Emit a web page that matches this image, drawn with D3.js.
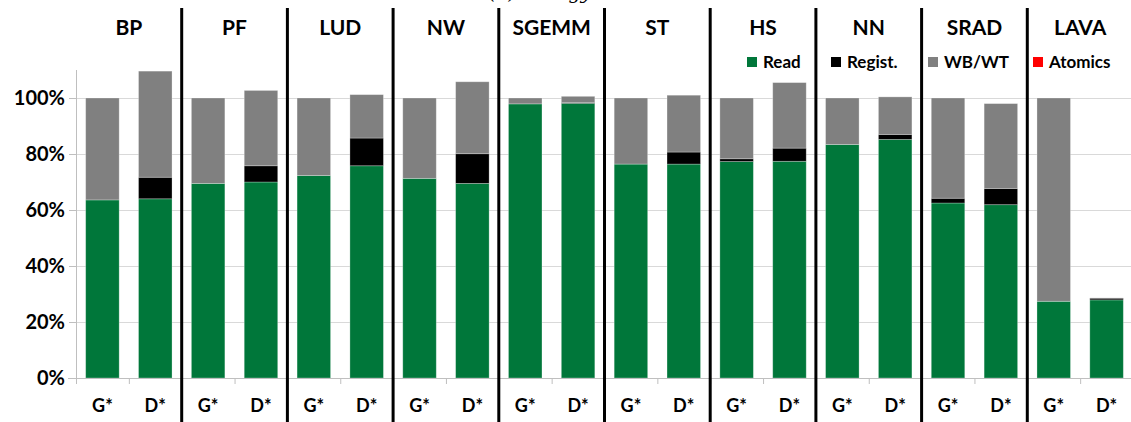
<!DOCTYPE html>
<html>
<head>
<meta charset="utf-8">
<script src="https://cdn.jsdelivr.net/npm/d3@7"></script>
<style>
  html, body { margin: 0; padding: 0; background: #fff; }
  svg { display: block; }
  text { font-family: Lato, "Open Sans", sans-serif; }
</style>
</head>
<body>
<svg id="chart" width="1131" height="422"></svg>
<script>
// Benchmarks and the two configurations compared in each
const groups = ["BP", "PF", "LUD", "NW", "SGEMM", "ST", "HS", "NN", "SRAD", "LAVA"];
const configs = ["G*", "D*"];

// Energy breakdown (%), one entry per bar: BP G*, BP D*, PF G*, PF D*, ...
const readVals    = [63.6, 64.0, 69.5, 70.0, 72.3, 75.8, 71.3, 69.5, 97.9, 98.1,
                     76.4, 76.4, 77.3, 77.4, 83.4, 85.2, 62.5, 61.9, 27.4, 27.9];
const registVals  = [0.0, 7.7, 0.0, 5.8, 0.0, 9.9, 0.0, 10.6, 0.0, 0.3,
                     0.0, 4.3, 1.0, 4.7, 0.0, 1.8, 1.7, 5.8, 0.0, 0.6];
const wbwtVals    = [36.4, 37.9, 30.5, 26.9, 27.7, 15.5, 28.7, 25.7, 2.1, 2.2,
                     23.6, 20.3, 21.7, 23.4, 16.6, 13.4, 35.8, 30.3, 72.6, 0.1];
const atomicsVals = [0, 0, 0, 0, 0, 0, 0, 0, 0, 0,
                     0, 0, 0, 0, 0, 0, 0, 0, 0, 0];

const seriesNames = ["Read", "Regist.", "WB/WT", "Atomics"];
const seriesColors = ["#00773a", "#000000", "#808080", "#ff0000"];
const yTicks = [0, 20, 40, 60, 80, 100];

const svg = d3.select("#chart");
const plotLeft = 76, plotRight = 1133, plotTop = 70, plotBottom = 378;

// Build rows for stacking
const rows = [];
groups.forEach((g, gi) => configs.forEach((c, ci) => {
  const i = gi * 2 + ci;
  rows.push({ key: g + "|" + c, group: g, config: c,
    "Read": readVals[i], "Regist.": registVals[i],
    "WB/WT": wbwtVals[i], "Atomics": atomicsVals[i] });
}));

const x = d3.scaleBand().domain(rows.map(r => r.key))
  .range([plotLeft, plotRight]).paddingInner(0.366).paddingOuter(0.183);
const xg = d3.scaleBand().domain(groups).range([plotLeft, plotRight]).padding(0);
const xSlot = d3.scaleLinear().domain([0, rows.length]).range([plotLeft, plotRight]);
const y = d3.scaleLinear().domain([0, 110]).range([plotBottom, plotTop]);

// Caption above the panel (runs off the top edge)
svg.append("text")
  .attr("x", 489).attr("y", -1)
  .style("font-family", "'DejaVu Serif', 'Liberation Serif', serif")
  .style("font-style", "italic").style("font-size", "19px")
  .text("(b) Energy");

// Gridlines
svg.append("g").selectAll("line").data(yTicks.filter(t => t > 0)).join("line")
  .attr("x1", plotLeft).attr("x2", plotRight)
  .attr("y1", d => Math.round(y(d)) + 0.5).attr("y2", d => Math.round(y(d)) + 0.5)
  .attr("stroke", "#d9d9d9").attr("stroke-width", 1);

// Y axis
const yAxis = svg.append("g").attr("transform", `translate(${plotLeft},0)`)
  .call(d3.axisLeft(y).tickValues(yTicks).tickSize(7).tickPadding(4)
    .tickFormat(d => d + "%"));
yAxis.select(".domain").attr("stroke", "#bfbfbf").attr("d", `M0.5,${plotTop}V${plotBottom}`);
yAxis.selectAll(".tick line").attr("stroke", "#bfbfbf");
yAxis.selectAll(".tick text").style("font-family", "Lato, sans-serif")
  .style("font-size", "20px").style("font-weight", "700").attr("fill", "#000");

// Stacked bars
const stack = d3.stack().keys(seriesNames);
const layers = stack(rows);
svg.append("g").selectAll("g").data(layers).join("g")
  .attr("fill", (d, i) => seriesColors[i])
  .selectAll("rect").data(d => d).join("rect")
  .attr("x", d => x(d.data.key))
  .attr("width", x.bandwidth())
  .attr("y", d => y(d[1]))
  .attr("height", d => Math.max(0, y(d[0]) - y(d[1])))
  .attr("stroke", "rgba(255,255,255,0.35)").attr("stroke-width", 0.8);

// X axis: slot boundary ticks
const xAxis = svg.append("g").attr("transform", `translate(0,${plotBottom})`)
  .call(d3.axisBottom(xSlot).tickValues(d3.range(0, rows.length + 1))
    .tickSize(6).tickFormat(""));
xAxis.select(".domain").attr("stroke", "#bfbfbf").attr("d", `M${plotLeft - 8},0.5H${plotRight}`);
xAxis.selectAll(".tick line").attr("stroke", "#bfbfbf");

// Config labels under each bar
const xLab = svg.append("g").attr("transform", `translate(0,${plotBottom})`)
  .call(d3.axisBottom(x).tickSize(0).tickPadding(21)
    .tickFormat(k => k.split("|")[1]));
xLab.select(".domain").remove();
xLab.selectAll(".tick text").style("font-family", "Lato, sans-serif")
  .style("font-size", "18px").style("font-weight", "700").attr("fill", "#000");

// Group separators
svg.append("g").selectAll("line").data(groups.slice(1)).join("line")
  .attr("x1", d => xg(d)).attr("x2", d => xg(d))
  .attr("y1", 8).attr("y2", 422)
  .attr("stroke", "#000").attr("stroke-width", 3);

// Group titles
svg.append("g").selectAll("text").data(groups).join("text")
  .attr("x", d => xg(d) + xg.bandwidth() / 2).attr("y", 35)
  .attr("text-anchor", "middle")
  .style("font-size", "21px").style("font-weight", "700")
  .text(d => d);

// Legend
const legendX = [747, 831, 928, 1033];
const leg = svg.append("g").selectAll("g").data(seriesNames).join("g")
  .attr("transform", (d, i) => `translate(${legendX[i]},57)`);
leg.append("rect").attr("width", 10).attr("height", 10)
  .attr("fill", (d, i) => seriesColors[i]);
leg.append("text").attr("x", 16).attr("y", 10.5)
  .style("font-size", "17px").style("font-weight", "700")
  .text(d => d);
</script>
</body>
</html>
